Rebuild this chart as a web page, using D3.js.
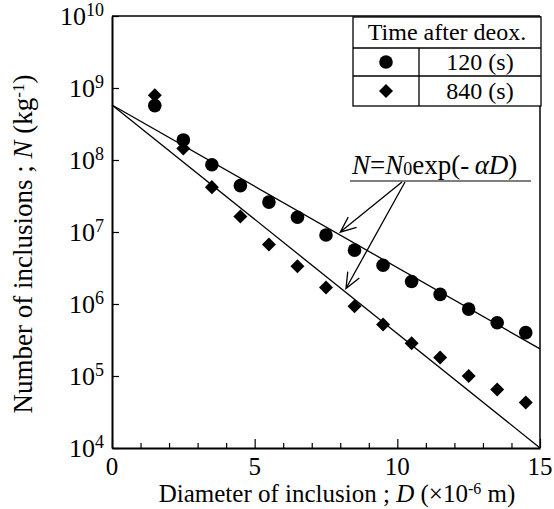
<!DOCTYPE html>
<html>
<head>
<meta charset="utf-8">
<script src="https://cdn.jsdelivr.net/npm/d3@7"></script>
</head>
<body style="margin:0;padding:0;background:#fff">
<svg id="chart" width="554" height="509"></svg>
<script>
// Inclusion size distribution at two times after deoxidation
const diameters = [1.5, 2.5, 3.5, 4.5, 5.5, 6.5, 7.5, 8.5, 9.5, 10.5, 11.5, 12.5, 13.5, 14.5];
const n120 = [5.7e8, 1.9e8, 8.6e7, 4.4e7, 2.6e7, 1.6e7, 9.1e6, 5.6e6, 3.45e6, 2.05e6, 1.36e6, 8.5e5, 5.5e5, 4.0e5];
const n840 = [7.9e8, 1.44e8, 4.2e7, 1.64e7, 6.7e6, 3.35e6, 1.7e6, 9.3e5, 5.2e5, 2.85e5, 1.8e5, 1.0e5, 6.5e4, 4.3e4];

// Fitted N = N0 exp(-alpha D), D in 1e-6 m
const fitN0 = 5.8e8;
const fitAlpha = [0.52, 0.731];

const xTicks = [0, 5, 10, 15];
const yTickExps = [4, 5, 6, 7, 8, 9, 10];

const legendTitle = "Time after deox.";
const legendLabels = ["120 (s)", "840 (s)"];

const FONT = "Liberation Serif";
const svg = d3.select("#chart");
const plot = { left: 112, right: 540, top: 16, bottom: 448 };

const x = d3.scaleLinear().domain([0, 15]).range([plot.left, plot.right]);
const y = d3.scaleLog().domain([1e4, 1e10]).range([plot.bottom, plot.top]);

// Frame: top and right edges thin, left and bottom axes heavier
svg.append("line").attr("x1", plot.left).attr("x2", plot.right).attr("y1", plot.top).attr("y2", plot.top)
  .attr("stroke", "#000").attr("stroke-width", 1.5);
svg.append("line").attr("x1", plot.right).attr("x2", plot.right).attr("y1", plot.top).attr("y2", plot.bottom)
  .attr("stroke", "#000").attr("stroke-width", 1.5);

// Bottom axis with unit minor ticks pointing inward
const xAxis = d3.axisBottom(x).tickValues(d3.range(0, 16, 1)).tickSizeInner(-5).tickSizeOuter(0).tickFormat("");
const gx = svg.append("g").attr("transform", `translate(0,${plot.bottom})`).call(xAxis);
gx.select(".domain").attr("stroke-width", 2);
gx.selectAll(".tick line").attr("stroke-width", 1.2)
  .attr("y2", d => (d % 5 === 0 ? -9 : -5));
svg.append("g").selectAll("text").data(xTicks).join("text")
  .attr("x", d => x(d)).attr("y", plot.bottom + 27)
  .attr("text-anchor", "middle").attr("font-size", 25).text(d => d);

// Left axis, decade ticks pointing inward
const yAxis = d3.axisLeft(y).tickValues(yTickExps.map(e => Math.pow(10, e))).tickSizeInner(-7).tickSizeOuter(0).tickFormat("");
const gy = svg.append("g").attr("transform", `translate(${plot.left},0)`).call(yAxis);
gy.select(".domain").attr("stroke-width", 2);
gy.selectAll(".tick line").attr("stroke-width", 1.2);
const yl = svg.append("g").selectAll("text").data(yTickExps).join("text")
  .attr("x", 104).attr("y", d => y(Math.pow(10, d)) + 9)
  .attr("text-anchor", "end").attr("font-size", 26);
yl.append("tspan").text("10");
yl.append("tspan").attr("font-size", 18).attr("dy", -9).text(d => d);

// Axis titles
const xt = svg.append("text").attr("x", 337).attr("y", 502).attr("text-anchor", "middle").attr("font-size", 25);
xt.append("tspan").text("Diameter of inclusion ; ");
xt.append("tspan").attr("font-style", "italic").text("D");
xt.append("tspan").text(" (\u00D710");
xt.append("tspan").attr("font-size", 16).attr("dy", -8).text("-6");
xt.append("tspan").attr("dy", 8).text(" m)");

const yt = svg.append("text").attr("transform", "translate(32,244) rotate(-90)")
  .attr("text-anchor", "middle").attr("font-size", 27);
yt.append("tspan").text("Number of inclusions ; ");
yt.append("tspan").attr("font-style", "italic").text("N");
yt.append("tspan").text(" (kg");
yt.append("tspan").attr("font-size", 17).attr("dy", -8).text("-1");
yt.append("tspan").attr("dy", 8).text(")");

// Fit lines
const fitN = (a, D) => fitN0 * Math.exp(-a * D);
const line = d3.line().x(d => x(d[0])).y(d => y(d[1]));
fitAlpha.forEach(a => {
  svg.append("path")
    .datum([0, 15].map(D => [D, fitN(a, D)]))
    .attr("d", line).attr("fill", "none").attr("stroke", "#000").attr("stroke-width", 1.3);
});

// Data markers
svg.append("g").selectAll("circle").data(diameters.map((d, i) => [d, n120[i]])).join("circle")
  .attr("cx", d => x(d[0])).attr("cy", d => y(d[1])).attr("r", 6.8).attr("fill", "#000");
const diamond = d3.symbol().type(d3.symbolDiamond2).size(125);
svg.append("g").selectAll("path").data(diameters.map((d, i) => [d, n840[i]])).join("path")
  .attr("transform", d => `translate(${x(d[0])},${y(d[1])})`).attr("d", diamond).attr("fill", "#000");

// Legend table in the top-right corner
const lg = { left: 353, mid: 419, right: 541, rows: [17, 48, 76, 106] };
const lgG = svg.append("g").attr("stroke", "#000").attr("stroke-width", 1.3).attr("fill", "none");
lgG.append("rect").attr("x", lg.left).attr("y", lg.rows[0]).attr("width", lg.right - lg.left).attr("height", lg.rows[3] - lg.rows[0])
  .attr("fill", "#fff");
[1, 2].forEach(i => lgG.append("line").attr("x1", lg.left).attr("x2", lg.right).attr("y1", lg.rows[i]).attr("y2", lg.rows[i]));
lgG.append("line").attr("x1", lg.mid).attr("x2", lg.mid).attr("y1", lg.rows[1]).attr("y2", lg.rows[3]);
svg.append("text").attr("x", (lg.left + lg.right) / 2).attr("y", 40).attr("text-anchor", "middle")
  .attr("font-size", 24).text(legendTitle);
legendLabels.forEach((t, i) => {
  const cy = (lg.rows[i + 1] + lg.rows[i + 2]) / 2;
  svg.append("text").attr("x", (lg.mid + lg.right) / 2).attr("y", cy + 8).attr("text-anchor", "middle")
    .attr("font-size", 24).text(t);
});
const lcx = (lg.left + lg.mid) / 2;
svg.append("circle").attr("cx", lcx).attr("cy", (lg.rows[1] + lg.rows[2]) / 2).attr("r", 6.8).attr("fill", "#000");
svg.append("path").attr("transform", `translate(${lcx},${(lg.rows[2] + lg.rows[3]) / 2})`)
  .attr("d", diamond).attr("fill", "#000");

// Equation annotation with arrows to both fit lines
const eq = svg.append("text").attr("x", 352).attr("y", 174).attr("font-size", 27);
eq.append("tspan").attr("font-style", "italic").text("N");
eq.append("tspan").text("=");
eq.append("tspan").attr("font-style", "italic").text("N");
eq.append("tspan").attr("font-size", 18).attr("dy", 1).text("0");
eq.append("tspan").attr("dy", -1).text("exp(-");
eq.append("tspan").attr("font-style", "italic").text("\u2009\u03B1D");
eq.append("tspan").text(")");
svg.append("line").attr("x1", 350).attr("x2", 531).attr("y1", 181).attr("y2", 181)
  .attr("stroke", "#000").attr("stroke-width", 1.2);

function arrow(x0, y0, x1, y1) {
  const ang = Math.atan2(y1 - y0, x1 - x0);
  const len = 17, spread = 0.4;
  const b1 = [x1 - len * Math.cos(ang - spread), y1 - len * Math.sin(ang - spread)];
  const b2 = [x1 - len * Math.cos(ang + spread), y1 - len * Math.sin(ang + spread)];
  const p = d3.path();
  p.moveTo(x0, y0); p.lineTo(x1, y1);
  p.moveTo(b1[0], b1[1]); p.lineTo(x1, y1); p.lineTo(b2[0], b2[1]);
  svg.append("path").attr("d", p.toString()).attr("fill", "none").attr("stroke", "#000").attr("stroke-width", 1.3);
}
// Arrow tips sit just above each fit line
arrow(402, 182, x(8.0), y(fitN(fitAlpha[0], 8.0)) - 3);
arrow(405, 182, x(8.2), y(fitN(fitAlpha[1], 8.2)) - 4);

// Serif face on every text run
svg.selectAll("text, tspan").attr("font-family", FONT).style("font-family", FONT).style("fill", "#000");
</script>
</body>
</html>
